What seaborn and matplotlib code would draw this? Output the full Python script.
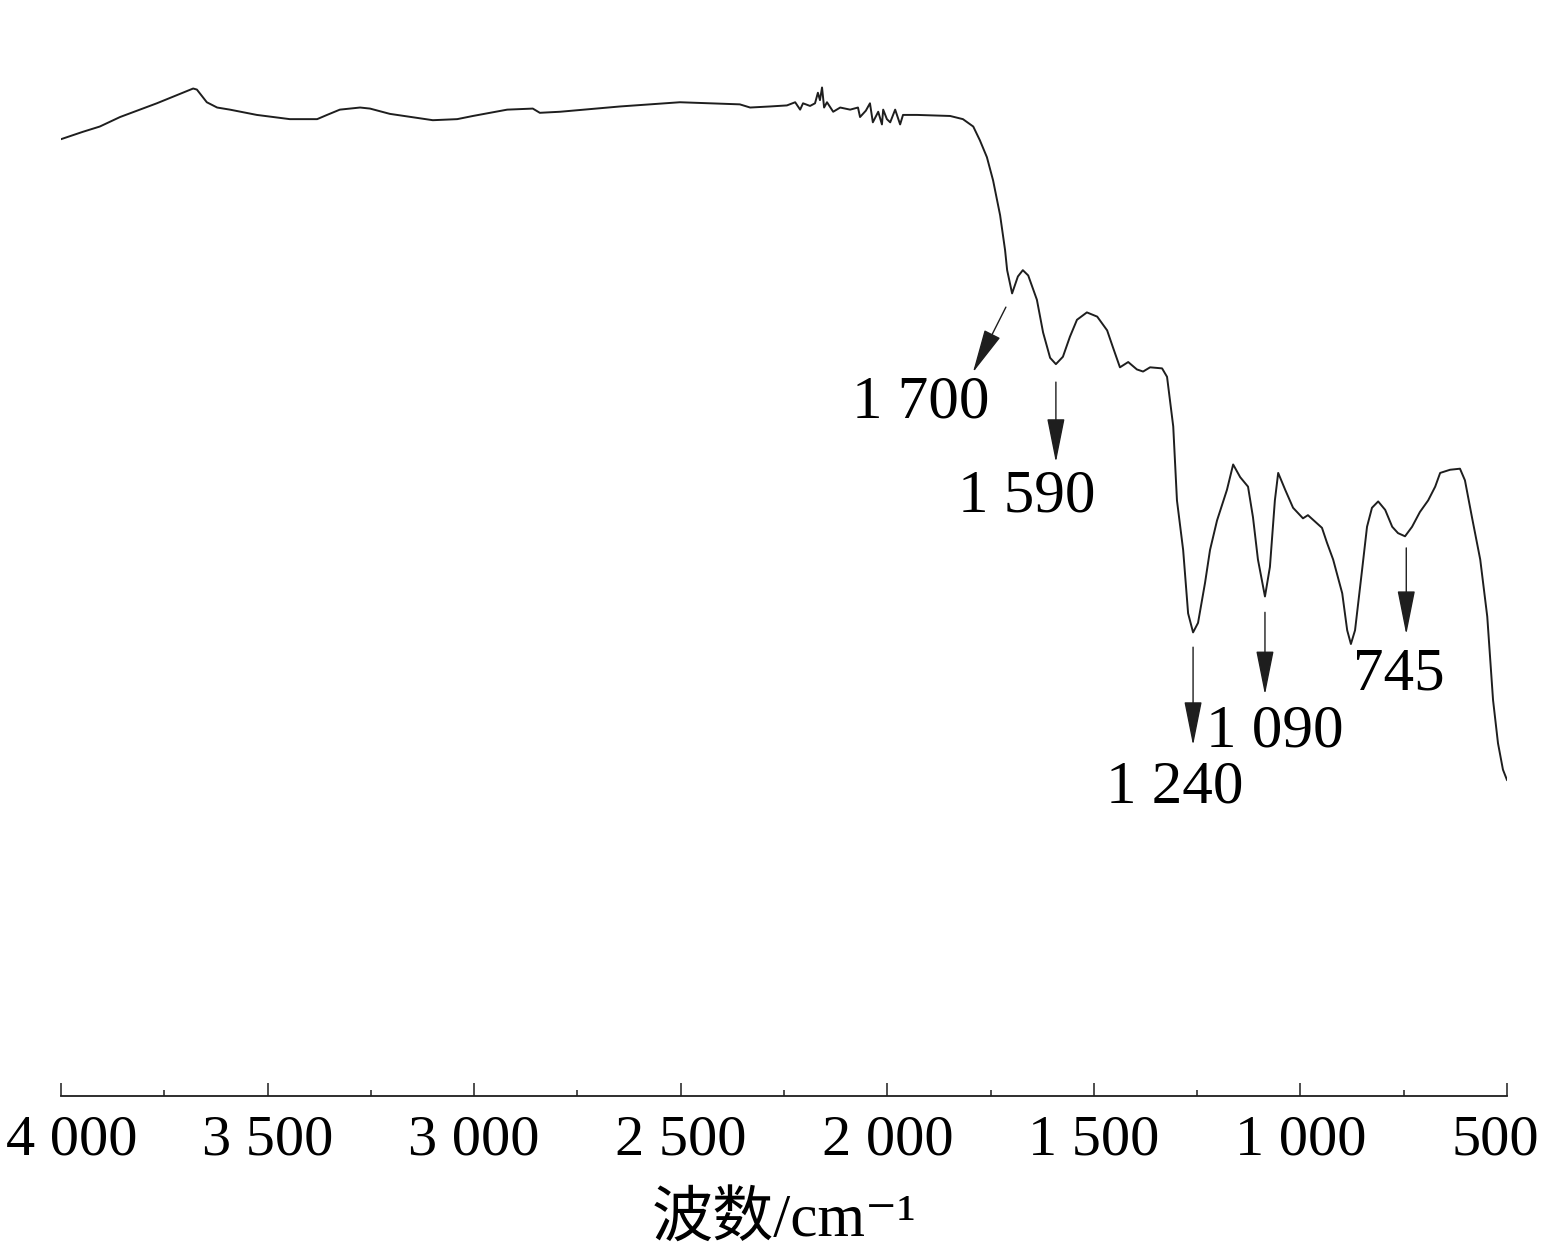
import numpy as np
import pandas as pd
import matplotlib
matplotlib.use('Agg')
import matplotlib.pyplot as plt
import matplotlib.transforms as mtransforms
import seaborn as sns

# wavenumber (cm-1) and transmittance (arbitrary %)
wavenumber = [4000, 3947, 3906, 3857, 3768, 3680, 3671, 3647, 3622, 3591, 3526, 3446,
              3380, 3356, 3325, 3276, 3252, 3204, 3100, 3041, 3003, 2920, 2858, 2841,
              2792, 2647, 2502, 2357, 2332, 2284, 2243, 2223, 2211, 2204, 2187, 2175,
              2168, 2163, 2158, 2153, 2146, 2131, 2114, 2090, 2071, 2066, 2052, 2042,
              2035, 2022, 2013, 2010, 2001, 1993, 1981, 1969, 1962, 1928, 1848, 1817,
              1792, 1776, 1759, 1744, 1727, 1715, 1710, 1698, 1684, 1672, 1659, 1638,
              1623, 1606, 1592, 1575, 1558, 1541, 1517, 1492, 1468, 1454, 1437, 1417,
              1396, 1381, 1364, 1335, 1323, 1308, 1299, 1284, 1272, 1260, 1248, 1231,
              1219, 1202, 1178, 1163, 1146, 1127, 1115, 1103, 1086, 1074, 1062, 1054,
              1037, 1018, 994, 982, 948, 936, 921, 899, 887, 878, 868, 851,
              839, 827, 812, 795, 778, 764, 747, 730, 711, 691, 674, 662,
              638, 614, 602, 585, 565, 548, 534, 522, 510, 500]
transmittance = [90.6, 91.3, 91.8, 92.7, 94.0, 95.4, 95.3, 94.1, 93.6, 93.4, 92.9, 92.5,
                 92.5, 92.9, 93.4, 93.6, 93.5, 93.0, 92.4, 92.5, 92.8, 93.4, 93.5, 93.1,
                 93.2, 93.7, 94.1, 93.9, 93.6, 93.7, 93.8, 94.1, 93.4, 94.0, 93.75, 94.0,
                 95.0, 94.3, 95.5, 93.6, 94.1, 93.2, 93.6, 93.4, 93.6, 92.7, 93.3, 94.0,
                 92.2, 93.2, 92.0, 93.4, 92.5, 92.2, 93.4, 92.0, 92.9, 92.9, 92.8, 92.5,
                 91.8, 90.5, 88.9, 86.7, 83.4, 80.1, 78.2, 76.0, 77.6, 78.2, 77.7, 75.4,
                 72.3, 69.9, 69.3, 70.0, 71.9, 73.5, 74.2, 73.8, 72.5, 70.9, 69.0, 69.5,
                 68.8, 68.6, 69.0, 68.9, 68.1, 63.4, 56.4, 51.7, 45.7, 43.9, 44.8, 48.6,
                 51.7, 54.5, 57.4, 59.8, 58.6, 57.7, 54.8, 50.8, 47.3, 50.1, 56.4, 59.0,
                 57.4, 55.7, 54.7, 55.0, 53.8, 52.4, 50.8, 47.6, 44.1, 42.8, 44.1, 49.8,
                 53.9, 55.7, 56.3, 55.5, 53.9, 53.3, 53.0, 53.9, 55.3, 56.4, 57.7, 59.0,
                 59.3, 59.4, 58.3, 54.8, 50.8, 45.4, 37.5, 33.4, 30.9, 29.9]

tick_values = [4000, 3500, 3000, 2500, 2000, 1500, 1000, 500]
tick_labels = ['4 000', '3 500', '3 000', '2 500', '2 000', '1 500', '1 000', '500']
minor_ticks = [3750, 3250, 2750, 2250, 1750, 1250, 750]

# peak labels: text, label position, arrow tail, arrow tip
peak_text = ['1 700', '1 590', '1 240', '1 090', '745']
peak_text_pos = [(1918, 65.6), (1662, 56.7), (1304, 29.2), (1062, 34.5), (761, 39.9)]
arrow_tail = [(1713, 74.7), (1592, 67.6), (1260, 42.5), (1086, 45.8), (744, 51.9)]
arrow_tip = [(1793, 68.5), (1592, 60.0), (1260, 33.2), (1086, 38.0), (744, 43.7)]

sns.set_style('white')
plt.rcParams['font.family'] = ['Liberation Serif', 'Noto Sans CJK SC', 'DejaVu Serif']

df = pd.DataFrame({'wn': wavenumber, 'T': transmittance})

fig = plt.figure(figsize=(15.47, 12.52), dpi=100)
ax = fig.add_axes([0.0394, 0.1246, 0.9348, 0.8435])

sns.lineplot(data=df, x='wn', y='T', ax=ax, color='#1e1e1e', linewidth=1.4,
             estimator=None, sort=True)

ax.set_xlim(4000, 500)
ax.set_ylim(0, 100)

for s in ['left', 'top', 'right']:
    ax.spines[s].set_visible(False)
ax.spines['bottom'].set_linewidth(1.3)
ax.spines['bottom'].set_color('#1e1e1e')

ax.set_yticks([])
ax.set_ylabel('')
ax.set_xticks(tick_values)
ax.set_xticklabels(tick_labels, fontsize=42)
ax.set_xticks(minor_ticks, minor=True)
ax.tick_params(axis='x', which='major', direction='in', length=9.5, width=1.1,
               pad=13, color='#1e1e1e', labelcolor='black', bottom=True)
ax.tick_params(axis='x', which='minor', direction='in', length=4.5, width=1.1,
               color='#1e1e1e', bottom=True)

# end labels sit a little inward, as in the original
labels = ax.get_xticklabels()
labels[0].set_transform(labels[0].get_transform() +
                        mtransforms.ScaledTranslation(11 / 100, 0, fig.dpi_scale_trans))
labels[-1].set_transform(labels[-1].get_transform() +
                         mtransforms.ScaledTranslation(-12 / 100, 0, fig.dpi_scale_trans))

ax.set_xlabel('波数/cm⁻¹', fontsize=44, labelpad=19, color='black')

for txt, pos, tail, tip in zip(peak_text, peak_text_pos, arrow_tail, arrow_tip):
    ax.annotate('', xy=tip, xytext=tail,
                arrowprops=dict(arrowstyle='-|>,head_length=1.4,head_width=0.28',
                                mutation_scale=20, lw=1.0, color='#1e1e1e',
                                shrinkA=0, shrinkB=0))
    ax.text(pos[0], pos[1], txt, fontsize=44, ha='center', va='center', color='black')

plt.savefig('out.png', dpi=100)
